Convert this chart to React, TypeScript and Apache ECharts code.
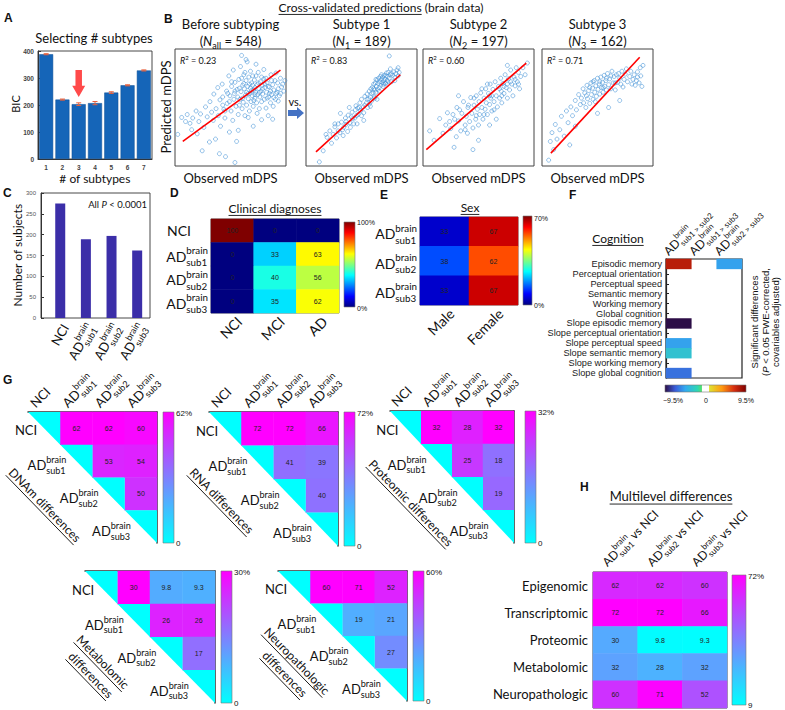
import React, { useEffect, useRef } from "react";
import * as echarts from "echarts";

const LATO = "Lato, 'Open Sans', sans-serif";
const ARIAL = "'Liberation Sans', Arial, sans-serif";

// ---------- A: selecting number of subtypes ----------
const subtypeNumbers = ["1", "2", "3", "4", "5", "6", "7"];
const bicValues = [388, 220, 203, 207, 246, 273, 328];
const bicErrors = [2, 2, 5, 6, 3, 2, 2];

// ---------- B: cross-validated predictions ----------
const predTitles = ["Before subtyping", "Subtype 1", "Subtype 2", "Subtype 3"];
const predNSub = ["all", "1", "2", "3"];
const predN = [548, 189, 197, 162];
const predR2 = ["0.23", "0.83", "0.60", "0.71"];
const beforePoints = [[2.5,27],[6,41.5],[9.5,38],[11,44],[13.5,36.5],[16,41],[19,47],[21.5,38],[23,44.5],[24.5,13],[26,33],[27.5,50.5],[29,42],[31,20.5],[31.5,55],[33,46],[34.5,39],[35,61.5],[36.5,23],[37,49],[38.5,67],[39,43],[40.5,56.5],[41,34],[42.5,70],[43,59],[44,48.5],[45.5,8],[45,41],[46.5,64],[47,53.5],[48.5,77],[49,29],[49.5,60],[50.5,47],[51,68],[52,39],[52.5,82],[53.5,62],[54,71.5],[55,51],[55.5,21],[56,65.5],[57,44],[57.5,74],[58.5,57],[59,85],[59.5,63.5],[60.5,49],[61,69],[61.5,54.5],[62,78],[62.5,66],[63,43],[63.5,60.5],[64,73],[64.5,52],[65,89],[65.5,68],[66,57.5],[66.5,76],[67,47],[67.5,62],[68,81],[68.5,55],[69,71],[69.5,60],[70,77],[70.5,51],[71,65],[71.5,73.5],[72,58],[72.5,63],[73,87],[73.5,54],[74,69.5],[74.5,61],[75,80],[75.5,66],[76,49],[76.5,59],[77,72],[77.5,64],[78,55],[78.5,69],[79,61.5],[80,74.5],[80.5,57],[81,67],[82,49.5],[82.5,63],[83,71],[84,43],[84.5,59],[85,67.5],[86,54],[86.5,78],[87,61],[88,69.5],[88.5,51],[89,65],[90,73],[90.5,57],[91,79.5],[92,63],[92.5,71],[93,66],[94,60],[95,75],[96,67.5],[97,70],[98,64],[99,73],[60,94.5],[64,91],[54,3],[40,10.5],[70.5,34],[78,39.5],[88,40],[20,27.5],[15,31],[57,30.5],[66,41.5],[74,45],[80,82.5],[58,66.5],[62,70.5],[68,66.5],[72,67],[47.5,62],[53,57],[56.5,59],[61,58],[64.5,63],[67,70],[69,64.5],[71,56],[73,77],[75,71],[78,76],[81,70],[83,58],[85,62],[87,73],[89,58.5],[91,62],[93,55.5],[95,62],[43,52],[45,47],[49,55],[51,72],[54,64],[58,52],[60,75],[63,80],[66,62],[70,69],[72,61],[76,63],[79,66],[82,75],[84,68],[86,64]];
const sub1Points = [[12,3.5],[15.5,13],[19,24.5],[21.5,30],[23,19.5],[24.5,27],[26,33.5],[27.5,24],[29,36],[30.5,28.5],[32,37.5],[33.5,26],[34,33],[35.5,41],[36,35.5],[37.5,29.5],[38,43.5],[39.5,37],[40,33],[41.5,46],[42,40.5],[43,36],[44.5,48],[45,51.5],[45.5,43],[46.5,49.5],[47,44],[48.5,54],[49,47.5],[50,57],[51.5,50.5],[52,45.5],[53,59.5],[54.5,54],[55,61.5],[55.5,50],[56.5,57.5],[57,64],[58,59],[58.5,66],[59,55.5],[60,67.5],[60.5,62.5],[61,70],[61.5,59],[62,65],[62.5,71],[63,63],[63.5,68],[64,73.5],[64.5,65.5],[65,70.5],[65.5,75],[66,67],[66.5,72],[67,76.5],[67.5,69],[68,74],[68.5,71.5],[69,76],[69.5,68],[70,73],[70.5,77.5],[71,74.5],[71.5,70.5],[72,77],[72.5,79.5],[73,73],[73.5,76.5],[74,80],[75,75],[76,78],[77,72],[78,77.5],[79,80.5],[80,75.5],[81,79],[82,82],[83,77],[84,80],[52,39],[46,36],[58,51],[64,57],[76,83],[75,94],[39,50],[31,45],[26,36],[18,27],[44,41],[48,50],[50,43],[53,52],[57,53],[59,62],[62,58],[66,64],[70,70],[36,38],[33,31],[29,30],[41,42],[55,57],[61,66],[63,74],[68,78],[72,71],[74,72],[77,79],[80,73],[83,84]];
const sub2Points = [[6,30],[10,22],[15,40.5],[18,28],[20.5,35],[22,45.5],[25,32],[28,16],[28.5,40],[30,25],[30.5,50],[32,38.5],[34,30],[35,45],[36.5,55],[38,35],[39,42.5],[40,28],[40.5,50],[42,38],[43,58.5],[44,45],[45,32.5],[46,52],[47.5,40],[48,60],[49,48.5],[50,35],[50.5,55],[51,44],[52,62.5],[53,50],[54,40],[55,58],[56,48.5],[56.5,66],[57,54],[58,44],[59,62],[60,52.5],[60.5,70],[61,58],[62,47],[63,65.5],[64,55],[65,72],[66,60],[67,50.5],[68,68],[69,58],[70,75],[70.5,64],[71,54],[72,70.5],[73,62],[74,78],[75,67],[76,58],[77,74.5],[78,65],[79,82],[80,70],[81,60],[82,76],[83,68.5],[84,84],[85,72],[86,80],[87,66],[88,76.5],[90,84],[92,78],[94,88],[76,86],[50,22],[45,14],[66,40],[32,60],[60,35],[27,44],[33,48],[41,52],[46,58],[53,66],[58,70],[62,60],[64,48],[69,66],[73,68],[79,72],[83,74],[86,70],[55,44],[48,43],[38,31],[24,38],[60,60],[71,60],[76,70]];
const sub3Points = [[6,5],[7.5,21],[9,28.5],[10.5,14],[12,35.5],[13.5,23],[16,31],[17.5,42.5],[20,25.5],[22,47],[23.5,37],[26,50.5],[27.5,43],[30,56],[31,48],[33,61],[34.5,52.5],[35.5,58],[37,66],[37.5,54],[38.5,62.5],[39.5,50],[40.5,69],[41,57.5],[42,64.5],[43,53.5],[44,71],[44.5,61],[45.5,66.5],[46,57],[47,73],[47.5,63],[48.5,68.5],[49,59.5],[50,75],[50.5,65.5],[51.5,70],[52,61.5],[53,76],[53.5,67],[54.5,71.5],[55,63],[56,77.5],[56.5,68],[57.5,73],[58,65],[59,79],[60,69.5],[61,74.5],[62,66],[63,81],[64,71],[65,76.5],[66,65],[67,78],[68,71.5],[70,75],[72,81],[73,67.5],[75,78.5],[77,72],[79,76.5],[81,70],[83,78],[85,73],[86,80.5],[87.5,71],[88.5,84],[89,77],[90,68],[91,86],[60,50],[50,45],[70,56],[30,34],[25,18],[40,60],[43,67],[46,72],[48,55],[52,72],[55,67],[58,75],[62,77],[66,71],[69,79],[71,70],[74,74],[76,83],[80,81],[82,74],[84,69],[86,76]];
const predPoints = [beforePoints, sub1Points, sub2Points, sub3Points];
const predLines = [
  [[7, 21], [95, 82]],
  [[9, 12], [85, 78]],
  [[3, 14], [93, 88]],
  [[8, 11], [88, 93]],
];

// ---------- C: number of subjects ----------
const groups = ["NCI", "sub1", "sub2", "sub3"];
const subjectCounts = [275, 189, 197, 162];

// ---------- D: clinical diagnoses ----------
const diagnosisCats = ["NCI", "MCI", "AD"];
const clinicalPct = [
  [100, 0, 0],
  [0, 33, 63],
  [0, 40, 56],
  [0, 35, 62],
];

// ---------- E: sex ----------
const sexCats = ["Male", "Female"];
const sexRows = ["sub1", "sub2", "sub3"];
const sexPct = [
  [33, 67],
  [38, 62],
  [33, 67],
];

// ---------- F: cognition ----------
const cognitionRows = [
  "Episodic memory", "Perceptual orientation", "Perceptual speed", "Semantic memory",
  "Working memory", "Global cognition", "Slope episodic memory", "Slope perceptual orientation",
  "Slope perceptual speed", "Slope semantic memory", "Slope working memory", "Slope global cognition",
];
const cognitionCols = ["sub1 > sub2", "sub1 > sub3", "sub2 > sub3"];
// [column, row, % difference] for significant cells only
const cognitionCells = [[0, 0, 8.0], [2, 0, -5.0], [0, 6, -9.5], [0, 8, -5.0], [0, 9, -3.5], [0, 11, -6.5]];

// ---------- G: pairwise omic differences (pairs 0-1,0-2,0-3,1-2,1-3,2-3) ----------
const dnamDiff = [62, 62, 60, 53, 54, 50];
const rnaDiff = [72, 72, 66, 41, 39, 40];
const proteomicDiff = [32, 28, 32, 25, 18, 19];
const metabolomicDiff = [30, 9.8, 9.3, 26, 26, 17];
const neuropathDiff = [60, 71, 52, 19, 21, 27];
const diffMax = [62, 72, 32, 30, 60];

// ---------- H: multilevel differences ----------
const levels = ["Epigenomic", "Transcriptomic", "Proteomic", "Metabolomic", "Neuropathologic"];
const multiCols = ["sub1", "sub2", "sub3"];
const multilevel = [
  [62, 62, 60],
  [72, 72, 66],
  [30, 9.8, 9.3],
  [32, 28, 32],
  [60, 71, 52],
];

// ---------- colour maps ----------
const JET = ["#00007f", "#0000ff", "#007fff", "#00ffff", "#7fff7f", "#ffff00", "#ff7f00", "#ff0000", "#7f0000"];
const DIVERGE = ["#2c0d46", "#3a5cd8", "#33aaf0", "#2fd6b4", "#ffffff", "#e8e030", "#ff9a10", "#d83010", "#800000"];
const COOL = ["#00ffff", "#ff00ff"];

// ---------- text helpers ----------
let ctx2d: any = null;
function tw(t: string, fs: number, ff: string, it = false, fw = "normal") {
  if (!ctx2d) ctx2d = document.createElement("canvas").getContext("2d");
  ctx2d.font = `${it ? "italic" : "normal"} ${fw} ${fs}px ${ff}`;
  return ctx2d.measureText(t).width;
}
function txt(x: number, y: number, t: string, fs: number, ff: string, color: string, it = false, fw = "normal") {
  return {
    type: "text", x, y, silent: true,
    style: { text: t, fontSize: fs, fontFamily: ff, fontStyle: it ? "italic" : "normal", fontWeight: fw, fill: color, textAlign: "left", textVerticalAlign: "middle" },
  };
}
function build(parts: any[], ff: string, color: string) {
  let x = 0;
  const ch: any[] = [];
  const uls: any[] = [];
  for (const p of parts) {
    const fam = p.ff || ff;
    let w = 0;
    if (p.sup !== undefined || p.sub !== undefined) {
      const ss = p.ss || p.fs * 0.7;
      if (p.sup) { ch.push(txt(x, -p.fs * 0.42, p.sup, ss, fam, color)); w = Math.max(w, tw(p.sup, ss, fam)); }
      if (p.sub) { ch.push(txt(x, p.fs * 0.42, p.sub, ss, fam, color)); w = Math.max(w, tw(p.sub, ss, fam)); }
    } else {
      ch.push(txt(x, p.dy || 0, p.t, p.fs, fam, color, !!p.it, p.fw || "normal"));
      w = tw(p.t, p.fs, fam, !!p.it, p.fw || "normal");
    }
    if (p.ul) uls.push([x, x + w, p.fs]);
    x += w;
  }
  return { ch, w: x, uls };
}
function lab(x: number, y: number, parts: any[], o: any = {}) {
  const color = o.color || "#111";
  const { ch, w, uls } = build(parts, o.ff || LATO, color);
  const off = o.anchor === "right" ? -w : o.anchor === "center" ? -w / 2 : 0;
  ch.forEach((c) => (c.x += off));
  uls.forEach(([a, b, fs]: any) =>
    ch.push({ type: "line", silent: true, shape: { x1: a + off, y1: fs * 0.62, x2: b + off, y2: fs * 0.62 }, style: { stroke: color, lineWidth: 0.9 } })
  );
  return { type: "group", x, y, rotation: o.rot || 0, children: ch };
}
const AD = (sub: string, fs = 13, extra: any[] = [], ss?: number) => [{ t: "AD", fs }, { sup: "brain", sub, fs, ss }, ...extra];
const grpParts = (g: string, fs = 13) => (g === "NCI" ? [{ t: "NCI", fs }] : AD(g, fs));

function colorbar(x: number, y: number, w: number, h: number, stops: any[], vertical = true) {
  return {
    type: "rect", silent: true,
    shape: { x, y, width: w, height: h },
    style: {
      fill: new echarts.graphic.LinearGradient(0, 0, vertical ? 0 : 1, vertical ? 1 : 0, stops),
      stroke: "#777", lineWidth: 0.6,
    },
  };
}
const jetStops = [
  { offset: 0, color: "#7f0000" }, { offset: 0.125, color: "#ff0000" }, { offset: 0.375, color: "#ffff00" },
  { offset: 0.625, color: "#00ffff" }, { offset: 0.875, color: "#0000ff" }, { offset: 1, color: "#00007f" },
];
const coolStops = [{ offset: 0, color: "#ff00ff" }, { offset: 1, color: "#00ffff" }];
const divStops = [
  { offset: 0, color: "#2c0d46" }, { offset: 0.125, color: "#3a5cd8" }, { offset: 0.25, color: "#33aaf0" },
  { offset: 0.4, color: "#2fd6b4" }, { offset: 0.45, color: "#50e070" }, { offset: 0.46, color: "#ffffff" },
  { offset: 0.54, color: "#ffffff" }, { offset: 0.55, color: "#e0e030" }, { offset: 0.7, color: "#ff9a10" },
  { offset: 0.85, color: "#d83010" }, { offset: 1, color: "#800000" },
];

function buildOption() {
  const grid: any[] = [];
  const xAxis: any[] = [];
  const yAxis: any[] = [];
  const series: any[] = [];
  const visualMap: any[] = [];
  const g: any[] = [];
  const hidden = { axisLine: { show: false }, axisTick: { show: false }, axisLabel: { show: false }, splitLine: { show: false } };
  const addGrid = (left: number, top: number, width: number, height: number, extra: any = {}) => {
    grid.push({ left, top, width, height, ...extra });
    return grid.length - 1;
  };
  const border = { show: true, borderColor: "#333", borderWidth: 0.9, backgroundColor: "transparent" };
  const heatLabel = { show: true, fontSize: 7, color: "#222", fontFamily: ARIAL, formatter: (p: any) => String(p.value[2]) };

  // ---------------- A ----------------
  const gA = addGrid(38, 51, 114, 108, border);
  xAxis.push({
    gridIndex: gA, type: "category", data: subtypeNumbers,
    axisLine: { lineStyle: { color: "#333" } },
    axisTick: { inside: true, length: 3, alignWithLabel: true, lineStyle: { color: "#333" } },
    axisLabel: { fontSize: 6.5, color: "#444", fontWeight: "bold", fontFamily: ARIAL, margin: 5 },
    splitLine: { show: false },
  });
  yAxis.push({
    gridIndex: gA, type: "value", min: 0, max: 400, interval: 100,
    axisLine: { show: true, lineStyle: { color: "#333" } },
    axisTick: { show: true, inside: true, length: 3, lineStyle: { color: "#333" } },
    axisLabel: { fontSize: 6.5, color: "#444", fontWeight: "bold", fontFamily: ARIAL, margin: 4 },
    splitLine: { show: false },
  });
  series.push({
    type: "bar", xAxisIndex: gA, yAxisIndex: gA, data: bicValues, barCategoryGap: "14%",
    itemStyle: { color: "#1565b8", borderColor: "#0d4f94", borderWidth: 0.5 },
    markPoint: {
      silent: true, label: { show: false },
      data: [{ coord: ["3", 280], symbol: "path://M3,0L9,0L9,14L12,14L6,24L0,14L3,14Z", symbolSize: [13, 27], itemStyle: { color: "#ff4a4a" } }],
    },
  });
  series.push({
    type: "custom", xAxisIndex: gA, yAxisIndex: gA, z: 5,
    data: bicValues.map((v, i) => [i, v, bicErrors[i]]),
    renderItem: (_p: any, api: any) => {
      const x = api.value(0), v = api.value(1), e = api.value(2);
      const lo = api.coord([x, v - e]);
      const hi = api.coord([x, v + e]);
      const st = { stroke: "#e8603c", lineWidth: 1 };
      return {
        type: "group",
        children: [
          { type: "line", shape: { x1: lo[0], y1: lo[1], x2: hi[0], y2: hi[1] }, style: st },
          { type: "line", shape: { x1: lo[0] - 2.5, y1: lo[1], x2: lo[0] + 2.5, y2: lo[1] }, style: st },
          { type: "line", shape: { x1: hi[0] - 2.5, y1: hi[1], x2: hi[0] + 2.5, y2: hi[1] }, style: st },
        ],
      };
    },
  });

  // ---------------- B ----------------
  const bLefts = [175, 306, 423, 542];
  bLefts.forEach((l, k) => {
    const gi = addGrid(l, 49, 111, 117, { show: true, borderColor: "#444", borderWidth: 1 });
    xAxis.push({ gridIndex: gi, type: "value", min: 0, max: 100, ...hidden });
    yAxis.push({ gridIndex: gi, type: "value", min: 0, max: 100, ...hidden });
    series.push({
      type: "scatter", xAxisIndex: gi, yAxisIndex: gi, data: predPoints[k], symbol: "circle", symbolSize: 4,
      itemStyle: { color: "rgba(255,255,255,0)", borderColor: "#3f8fd6", borderWidth: 0.7 },
    });
    series.push({
      type: "line", xAxisIndex: gi, yAxisIndex: gi, data: predLines[k], showSymbol: false, z: 4,
      lineStyle: { color: "#ff0000", width: 1.6 },
    });
    const cx = l + 55.5;
    g.push(lab(cx, 24, [{ t: predTitles[k], fs: 13 }], { anchor: "center" }));
    g.push(lab(cx, 41, [{ t: "(", fs: 13 }, { t: "N", fs: 13, it: true }, { t: predNSub[k], fs: 9, dy: 4 }, { t: " = " + predN[k] + ")", fs: 13 }], { anchor: "center" }));
    g.push(lab(l + 5, 60, [{ t: "R", fs: 9, it: true }, { t: "2", fs: 6, dy: -3 }, { t: " = " + predR2[k], fs: 9 }], {}));
    g.push(lab(cx, 178, [{ t: "Observed mDPS", fs: 13 }], { anchor: "center" }));
  });
  g.push(lab(381, 7, [{ t: "Cross-validated predictions", fs: 12, ul: true }, { t: " (brain data)", fs: 12 }], { anchor: "center" }));
  g.push(lab(166, 107, [{ t: "Predicted mDPS", fs: 13 }], { anchor: "center", rot: Math.PI / 2 }));
  g.push(lab(295, 101, [{ t: "vs.", fs: 11 }], { anchor: "center" }));
  g.push({
    type: "polygon", silent: true,
    shape: { points: [[288, 110], [297, 110], [297, 107], [304, 113], [297, 119], [297, 116], [288, 116]] },
    style: { fill: "#4472c4" },
  });

  // ---------------- C ----------------
  const gC = addGrid(41, 193, 109, 125, border);
  xAxis.push({ gridIndex: gC, type: "value", min: 0.25, max: 4.5, ...hidden });
  yAxis.push({
    gridIndex: gC, type: "value", min: 0, max: 300, interval: 50,
    axisLine: { show: true, lineStyle: { color: "#333" } },
    axisTick: { show: true, inside: true, length: 3, lineStyle: { color: "#333" } },
    axisLabel: { fontSize: 6, color: "#555", fontFamily: ARIAL, margin: 5 },
    splitLine: { show: false },
  });
  series.push({
    type: "bar", xAxisIndex: gC, yAxisIndex: gC, barWidth: 10,
    data: subjectCounts.map((v, i) => [i + 1, v]),
    itemStyle: { color: "#3b2ea8" },
  });
  g.push(lab(17, 255, [{ t: "Number of subjects", fs: 12 }], { anchor: "center", rot: Math.PI / 2 }));
  g.push(lab(147, 204, [{ t: "All ", fs: 9.5 }, { t: "P", fs: 9.5, it: true }, { t: " < 0.0001", fs: 9.5 }], { anchor: "right" }));
  groups.forEach((grp, i) => {
    const bc = 41 + ((i + 1 - 0.25) / 4.25) * 109;
    g.push(lab(bc + 5, 325, grpParts(grp, 13), { anchor: "right", rot: Math.PI / 3 }));
  });

  // ---------------- D ----------------
  const gD = addGrid(211, 219, 128, 94, { show: true, borderColor: "#444", borderWidth: 0.8 });
  xAxis.push({ gridIndex: gD, type: "category", data: diagnosisCats, ...hidden });
  yAxis.push({ gridIndex: gD, type: "category", data: groups, inverse: true, ...hidden });
  const dIdx = series.length;
  series.push({
    type: "heatmap", xAxisIndex: gD, yAxisIndex: gD, label: heatLabel,
    data: clinicalPct.flatMap((row, r) => row.map((v, c) => [c, r, v])),
  });
  visualMap.push({ show: false, type: "continuous", min: 0, max: 100, seriesIndex: dIdx, inRange: { color: JET } });
  g.push(lab(275, 208, [{ t: "Clinical diagnoses", fs: 12, ul: true }], { anchor: "center" }));
  groups.forEach((grp, i) => {
    const cy = 219 + 94 * (i + 0.5) / 4;
    g.push(lab(grp === "NCI" ? 191 : 208, cy + (grp === "NCI" ? 0 : 2), grpParts(grp, 14), { anchor: "right" }));
  });
  diagnosisCats.forEach((c, i) => {
    const cc = 211 + 128 * (i + 0.5) / 3;
    g.push(lab(cc + 7, 319, [{ t: c, fs: 14 }], { anchor: "right", rot: Math.PI / 4 }));
  });
  g.push(colorbar(344, 222, 11, 85, jetStops));
  g.push(lab(357, 222, [{ t: "100%", fs: 7, ff: ARIAL }], {}));
  g.push(lab(357, 308, [{ t: "0%", fs: 7, ff: ARIAL }], {}));

  // ---------------- E ----------------
  const gE = addGrid(420, 217, 98, 88, { show: true, borderColor: "#444", borderWidth: 0.8 });
  xAxis.push({ gridIndex: gE, type: "category", data: sexCats, ...hidden });
  yAxis.push({ gridIndex: gE, type: "category", data: sexRows, inverse: true, ...hidden });
  const eIdx = series.length;
  series.push({
    type: "heatmap", xAxisIndex: gE, yAxisIndex: gE, label: heatLabel,
    data: sexPct.flatMap((row, r) => row.map((v, c) => [c, r, v])),
  });
  visualMap.push({ show: false, type: "continuous", min: 30, max: 70, seriesIndex: eIdx, inRange: { color: JET } });
  g.push(lab(470, 207, [{ t: "Sex", fs: 12, ul: true }], { anchor: "center" }));
  sexRows.forEach((grp, i) => {
    const cy = 217 + 88 * (i + 0.5) / 3;
    g.push(lab(417, cy + 2, AD(grp, 14), { anchor: "right" }));
  });
  sexCats.forEach((c, i) => {
    const cc = 420 + 98 * (i + 0.5) / 2;
    g.push(lab(cc + 7, 311, [{ t: c, fs: 14 }], { anchor: "right", rot: Math.PI / 4 }));
  });
  g.push(colorbar(523, 216, 9, 89, jetStops));
  g.push(lab(534, 218, [{ t: "70%", fs: 7, ff: ARIAL }], {}));
  g.push(lab(534, 305, [{ t: "0%", fs: 7, ff: ARIAL }], {}));

  // ---------------- F ----------------
  const gF = addGrid(666, 259, 76, 119, { show: true, borderColor: "#222", borderWidth: 1.2 });
  xAxis.push({ gridIndex: gF, type: "category", data: cognitionCols, ...hidden });
  yAxis.push({
    gridIndex: gF, type: "category", data: cognitionRows, inverse: true,
    axisLine: { show: true, lineStyle: { color: "#222", width: 1.2 } },
    axisTick: { show: true, inside: true, alignWithLabel: true, length: 3, lineStyle: { color: "#222" } },
    axisLabel: { fontSize: 9.2, color: "#222", fontFamily: ARIAL, margin: 4, interval: 0 },
    splitLine: { show: false },
  });
  const fIdx = series.length;
  series.push({ type: "heatmap", xAxisIndex: gF, yAxisIndex: gF, data: cognitionCells });
  visualMap.push({ show: false, type: "continuous", min: -9.5, max: 9.5, seriesIndex: fIdx, inRange: { color: DIVERGE } });
  g.push(lab(618, 238, [{ t: "Cognition", fs: 12, ul: true }], { anchor: "center" }));
  cognitionCols.forEach((c, i) => {
    const cc = 666 + 76 * (i + 0.5) / 3;
    g.push(lab(cc - 13, 253, AD(c, 12, [], 8), { rot: Math.PI / 4 }));
  });
  g.push(colorbar(665, 385, 81, 7, divStops, false));
  g.push(lab(673, 400, [{ t: "\u22129.5%", fs: 7, ff: ARIAL }], { anchor: "center" }));
  g.push(lab(706, 400, [{ t: "0", fs: 7, ff: ARIAL }], { anchor: "center" }));
  g.push(lab(746, 400, [{ t: "9.5%", fs: 7, ff: ARIAL }], { anchor: "center" }));
  g.push(lab(754, 322, [{ t: "Significant differences", fs: 9.5 }], { anchor: "center", rot: Math.PI / 2, ff: ARIAL }));
  g.push(lab(765, 322, [{ t: "(", fs: 9.5 }, { t: "P", fs: 9.5, it: true }, { t: " < 0.05 FWE-corrected,", fs: 9.5 }], { anchor: "center", rot: Math.PI / 2, ff: ARIAL }));
  g.push(lab(775, 322, [{ t: "covariables adjusted)", fs: 9.5 }], { anchor: "center", rot: Math.PI / 2, ff: ARIAL }));

  // ---------------- G ----------------
  const gSpecs = [
    { l: 28, t: 412, w: 129, h: 131, data: dnamDiff, cols: true, title: [["DNAm differences", 45, 505]] },
    { l: 209, t: 412, w: 129, h: 134, data: rnaDiff, cols: true, title: [["RNA differences", 222, 501]] },
    { l: 390, t: 411, w: 124, h: 132, data: proteomicDiff, cols: true, title: [["Proteomic differences", 411, 503]] },
    { l: 85, t: 571, w: 130, h: 132, data: metabolomicDiff, cols: false, title: [["Metabolomic", 103, 662], ["differences", 91, 675]] },
    { l: 278, t: 571, w: 129, h: 130, data: neuropathDiff, cols: false, title: [["Neuropathologic", 297, 661], ["differences", 285, 674]] },
  ];
  const pairs: number[][] = [];
  for (let i = 0; i < groups.length; i++) for (let j = i + 1; j < groups.length; j++) pairs.push([i, j]);
  const axLine = { show: true, lineStyle: { color: "#333", width: 1.5 } };
  const axTick = { show: true, inside: true, alignWithLabel: true, length: 3, lineStyle: { color: "#333" } };
  gSpecs.forEach((s, k) => {
    const gi = addGrid(s.l, s.t, s.w, s.h);
    xAxis.push({ gridIndex: gi, type: "category", data: groups, position: "top", axisLine: axLine, axisTick: axTick, axisLabel: { show: false }, splitLine: { show: false } });
    yAxis.push({ gridIndex: gi, type: "category", data: groups, inverse: true, position: "right", axisLine: axLine, axisTick: axTick, axisLabel: { show: false }, splitLine: { show: false } });
    const si = series.length;
    series.push({
      type: "heatmap", xAxisIndex: gi, yAxisIndex: gi, label: heatLabel, z: 1,
      data: pairs.map(([i, j], n) => [j, i, s.data[n]]),
    });
    visualMap.push({ show: false, type: "continuous", min: 0, max: diffMax[k], seriesIndex: si, inRange: { color: COOL } });
    series.push({
      type: "custom", xAxisIndex: gi, yAxisIndex: gi, z: 1,
      data: groups.map((_, i) => [i, i]),
      renderItem: (_p: any, api: any) => {
        const c = api.coord([api.value(0), api.value(1)]);
        const sz = api.size([1, 1]);
        const x0 = c[0] - sz[0] / 2, x1 = c[0] + sz[0] / 2, y0 = c[1] - sz[1] / 2, y1 = c[1] + sz[1] / 2;
        return { type: "polygon", shape: { points: [[x0, y0], [x1, y0], [x1, y1]] }, style: { fill: "#00ffff" } };
      },
    });
    const cw = s.w / 4, ch = s.h / 4;
    groups.forEach((grp, i) => {
      const cy = s.t + ch * (i + 0.5);
      const rx = s.l + cw * (i + 0.5) - (grp === "NCI" ? 7 : 10);
      g.push(lab(rx, cy + (grp === "NCI" ? 2 : 4), grpParts(grp, 13), { anchor: "right" }));
      if (s.cols) {
        const cc = s.l + cw * (i + 0.5);
        g.push(lab(cc - 12, s.t - 7, grpParts(grp, 13), { rot: Math.PI / 4 }));
      }
    });
    s.title.forEach(([t, x, y]: any) => g.push(lab(x, y, [{ t, fs: 12, ul: true }], { anchor: "center", rot: -0.8 })));
    const cbx = s.l + s.w + (k === 2 ? 11 : 6);
    g.push(colorbar(cbx, s.t, 11, s.h, coolStops));
    g.push(lab(cbx + 13, s.t + 1, [{ t: diffMax[k] + "%", fs: 8, ff: ARIAL }], {}));
    g.push(lab(cbx + 13, s.t + s.h, [{ t: "0", fs: 8, ff: ARIAL }], {}));
  });

  // ---------------- H ----------------
  const gH = addGrid(593, 572, 134, 136, { show: true, borderColor: "#444", borderWidth: 1 });
  xAxis.push({ gridIndex: gH, type: "category", data: multiCols, ...hidden });
  yAxis.push({
    gridIndex: gH, type: "category", data: levels, inverse: true,
    axisLine: { show: false },
    axisTick: { show: true, inside: true, alignWithLabel: true, length: 3, lineStyle: { color: "#333" } },
    axisLabel: { fontSize: 13, color: "#111", fontFamily: LATO, margin: 5 },
    splitLine: { show: false },
  });
  const hIdx = series.length;
  series.push({
    type: "heatmap", xAxisIndex: gH, yAxisIndex: gH, label: heatLabel,
    data: multilevel.flatMap((row, r) => row.map((v, c) => [c, r, v])),
  });
  visualMap.push({ show: false, type: "continuous", min: 9, max: 72, seriesIndex: hIdx, inRange: { color: COOL } });
  g.push(lab(671, 496, [{ t: "Multilevel differences", fs: 13, ul: true }], { anchor: "center" }));
  multiCols.forEach((c, i) => {
    const cc = 593 + 134 * (i + 0.5) / 3;
    g.push(lab(cc - 11, 564, AD(c, 12, [{ t: " vs NCI", fs: 12 }]), { rot: Math.PI / 4 }));
  });
  g.push(colorbar(732, 575, 14, 130, coolStops));
  g.push(lab(748, 576, [{ t: "72%", fs: 8, ff: ARIAL }], {}));
  g.push(lab(748, 705, [{ t: "9", fs: 8, ff: ARIAL }], {}));

  // ---------------- panel letters & A texts ----------------
  const letters: any[] = [["A", 4, 18], ["B", 164, 19], ["C", 3, 193], ["D", 170, 193], ["E", 380, 195], ["F", 569, 195], ["G", 3, 380], ["H", 580, 487]];
  letters.forEach(([t, x, y]) => g.push(lab(x, y, [{ t, fs: 12, fw: "bold" }], { ff: ARIAL })));
  g.push(lab(94, 38, [{ t: "Selecting # subtypes", fs: 13 }], { anchor: "center" }));
  g.push(lab(15, 104, [{ t: "BIC", fs: 11 }], { anchor: "center", rot: Math.PI / 2 }));
  g.push(lab(95, 178, [{ t: "# of subtypes", fs: 12 }], { anchor: "center" }));

  return {
    animation: false,
    backgroundColor: "#ffffff",
    textStyle: { fontFamily: LATO },
    grid, xAxis, yAxis, series, visualMap,
    graphic: { elements: g },
  };
}

export default function App() {
  const ref = useRef<HTMLDivElement>(null);
  useEffect(() => {
    const chart = echarts.init(ref.current!, null, { renderer: "svg" });
    chart.setOption(buildOption() as any);
    return () => chart.dispose();
  }, []);
  return <div ref={ref} style={{ position: "absolute", left: 0, top: 0, width: 785, height: 710, background: "#fff" }} />;
}
